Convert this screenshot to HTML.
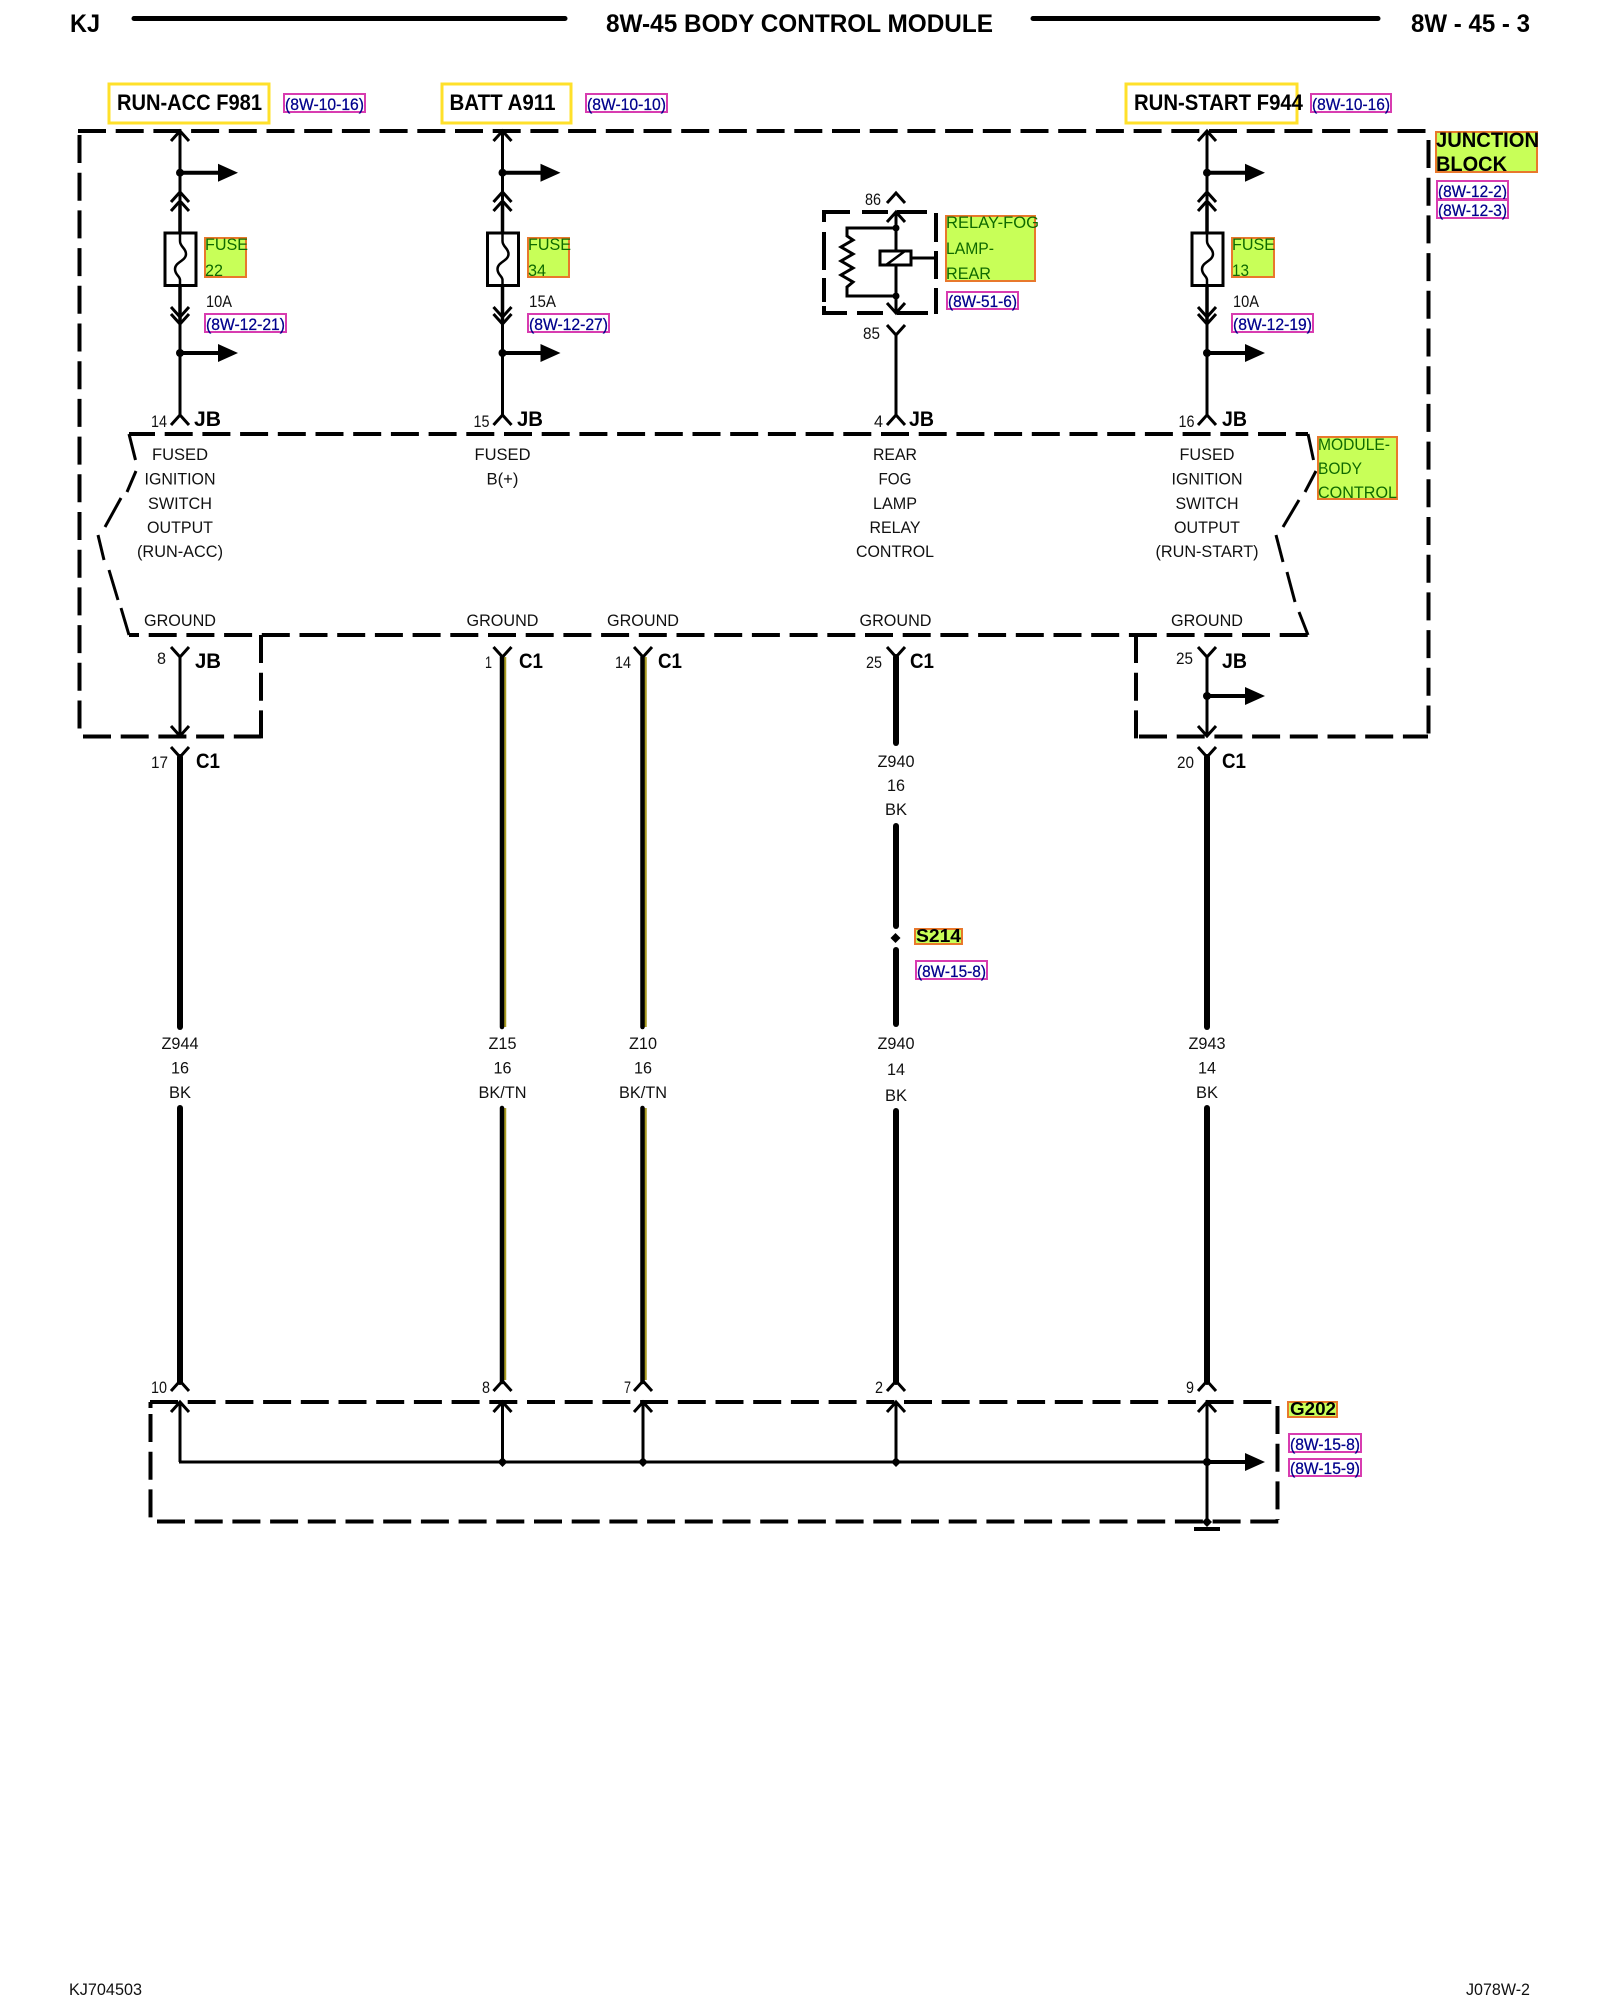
<!DOCTYPE html>
<html><head><meta charset="utf-8"><title>8W-45 Body Control Module</title>
<style>
html,body{margin:0;padding:0;background:#fff;width:1600px;height:2000px;overflow:hidden}
svg{display:block;filter:blur(0.35px)}
text{font-family:"Liberation Sans",sans-serif;fill:#111;font-size:16.5px}
.b{font-weight:bold;fill:#000}
.h{font-weight:bold;font-size:25px;fill:#000}
.t{font-weight:bold;font-size:22px;fill:#000}
.j{font-weight:bold;font-size:21px;fill:#000}
.c{text-anchor:middle}
.g{fill:#0f6a00;font-size:17px}
.r{fill:#00008c;font-size:16.5px;stroke:#00008c;stroke-width:.25}
.lb{fill:#c8ff58;stroke:#e8782c;stroke-width:2}
.rb{fill:#fff;stroke:#d83cb0;stroke-width:2}
.y{fill:#fff;stroke:#ffe02a;stroke-width:3}
.d{fill:none;stroke:#000;stroke-width:4;stroke-dasharray:28 9.7}
.s{fill:none;stroke:#000;stroke-width:3}
.m{fill:none;stroke:#000;stroke-width:3.5}
.w{fill:none;stroke:#000;stroke-width:6;stroke-linecap:round}
.o{fill:none;stroke:#a89a20;stroke-width:2.5}
.n{fill:none;stroke:#000;stroke-width:3}
.q{stroke:#000;stroke-width:4}
</style></head><body>
<svg xmlns="http://www.w3.org/2000/svg" width="1600" height="2000" viewBox="0 0 1600 2000">
<defs>
<polyline id="cu" points="-9,10 0,0 9,10" fill="none" stroke="#000" stroke-width="3"/>
<polyline id="cd" points="-9,-10 0,0 9,-10" fill="none" stroke="#000" stroke-width="3"/>
<g id="ar"><circle cx="0" cy="0" r="4" fill="#000"/><line x1="0" y1="0" x2="40" y2="0" stroke="#000" stroke-width="4"/><polygon points="38,-9 58,0 38,9" fill="#000"/></g>
<polygon id="dm" points="-5,0 0,-5 5,0 0,5" fill="#000"/>
<g id="fu">
<use href="#cu" x="0" y="131"/>
<line class="s" x1="0" y1="131" x2="0" y2="200"/>
<use href="#ar" x="0" y="172.7"/>
<use href="#cu" x="0" y="192"/><use href="#cu" x="0" y="201"/>
<line class="m" x1="0" y1="201" x2="0" y2="240"/>
<rect x="-15" y="233" width="31" height="52.5" fill="#fff" stroke="#000" stroke-width="3"/>
<path d="M0 233V241C0 247 6 248 6 254C6 261 -5 262 -5 269C-5 275 0 276 0 280V286" fill="none" stroke="#000" stroke-width="2.5"/>
<line class="m" x1="0" y1="286" x2="0" y2="322"/>
<use href="#cd" x="0" y="317"/><use href="#cd" x="0" y="324"/>
<line class="s" x1="0" y1="322" x2="0" y2="415"/>
<use href="#ar" x="0" y="353"/>
<use href="#cu" x="0" y="415"/>
</g>
</defs>

<!-- header -->
<text class="h" x="70" y="32" textLength="30" lengthAdjust="spacingAndGlyphs">KJ</text>
<line x1="134" y1="18.5" x2="565" y2="18.5" stroke="#000" stroke-width="5" stroke-linecap="round"/>
<text class="h" x="606" y="32" textLength="387" lengthAdjust="spacingAndGlyphs">8W-45 BODY CONTROL MODULE</text>
<line x1="1033" y1="18.5" x2="1378" y2="18.5" stroke="#000" stroke-width="5" stroke-linecap="round"/>
<text class="h" x="1411" y="32" textLength="119" lengthAdjust="spacingAndGlyphs">8W - 45 - 3</text>

<!-- outer junction block -->
<line class="d" x1="78" y1="131" x2="1426" y2="131"/>
<line class="d" x1="79.5" y1="135" x2="79.5" y2="733"/>
<line class="d" x1="83" y1="736.5" x2="261" y2="736.5"/>
<line class="d" x1="261" y1="635" x2="261" y2="739"/>
<line class="d" x1="1428.5" y1="140" x2="1428.5" y2="738"/>
<line class="d" x1="1139" y1="736.5" x2="1428" y2="736.5"/>
<line class="d" x1="1136" y1="635" x2="1136" y2="739"/>

<!-- module -->
<line class="d" x1="129" y1="434" x2="1308" y2="434" style="stroke-dashoffset:2"/>
<line class="d" x1="129" y1="635" x2="1308" y2="635" style="stroke-dashoffset:18"/>
<polyline class="n" points="129,434 135.5,460"/>
<polyline class="n" points="136,471 127,492"/><polyline class="n" points="121,498 105,527"/>
<polyline class="n" points="98,535 104,560"/><polyline class="n" points="109,570 118,600"/><polyline class="n" points="121,608 129,635"/>
<polyline class="n" points="1308,434 1313.5,460"/>
<polyline class="n" points="1316,471 1305,492"/><polyline class="n" points="1299,500 1283,527"/>
<polyline class="n" points="1276,535 1283,562"/><polyline class="n" points="1287,572 1295,602"/><polyline class="n" points="1299,612 1308,635"/>

<!-- top sources -->
<rect class="y" x="109" y="84" width="160" height="39"/>
<text class="t" x="117" y="110" textLength="145" lengthAdjust="spacingAndGlyphs">RUN-ACC F981</text>
<rect class="rb" x="284" y="94" width="81" height="18"/>
<text class="r" x="285" y="110" textLength="79" lengthAdjust="spacingAndGlyphs">(8W-10-16)</text>
<rect class="y" x="442" y="84" width="129" height="39"/>
<text class="t" x="449.5" y="110" textLength="106" lengthAdjust="spacingAndGlyphs">BATT A911</text>
<rect class="rb" x="586" y="94" width="81" height="18"/>
<text class="r" x="587" y="110" textLength="79" lengthAdjust="spacingAndGlyphs">(8W-10-10)</text>
<rect class="y" x="1126" y="84" width="171" height="39"/>
<text class="t" x="1134" y="110" textLength="169" lengthAdjust="spacingAndGlyphs">RUN-START F944</text>
<rect class="rb" x="1311" y="94" width="80" height="18"/>
<text class="r" x="1312" y="110" textLength="78" lengthAdjust="spacingAndGlyphs">(8W-10-16)</text>

<!-- junction block label -->
<rect class="lb" x="1436" y="132" width="101" height="40"/>
<text class="j" x="1436" y="147" textLength="103" lengthAdjust="spacingAndGlyphs">JUNCTION</text>
<text class="j" x="1436" y="171" textLength="71" lengthAdjust="spacingAndGlyphs">BLOCK</text>
<rect class="rb" x="1437" y="181" width="71" height="18"/>
<text class="r" x="1438" y="197" textLength="69" lengthAdjust="spacingAndGlyphs">(8W-12-2)</text>
<rect class="rb" x="1437" y="200" width="71" height="18"/>
<text class="r" x="1438" y="216" textLength="69" lengthAdjust="spacingAndGlyphs">(8W-12-3)</text>

<!-- fuse columns -->
<use href="#fu" x="180" y="0"/>
<use href="#fu" x="502.5" y="0"/>
<use href="#fu" x="1207" y="0"/>

<rect class="lb" x="205" y="238" width="41" height="39"/>
<text class="g" x="205" y="250" textLength="43" lengthAdjust="spacingAndGlyphs">FUSE</text>
<text class="g" x="205" y="276" textLength="18" lengthAdjust="spacingAndGlyphs">22</text>
<text x="206" y="307" textLength="26" lengthAdjust="spacingAndGlyphs">10A</text>
<rect class="rb" x="205" y="314" width="81" height="18"/>
<text class="r" x="206" y="330" textLength="79" lengthAdjust="spacingAndGlyphs">(8W-12-21)</text>

<rect class="lb" x="528" y="238" width="41" height="39"/>
<text class="g" x="528" y="250" textLength="43" lengthAdjust="spacingAndGlyphs">FUSE</text>
<text class="g" x="528" y="276" textLength="18" lengthAdjust="spacingAndGlyphs">34</text>
<text x="529" y="307" textLength="27" lengthAdjust="spacingAndGlyphs">15A</text>
<rect class="rb" x="528" y="314" width="81" height="18"/>
<text class="r" x="529" y="330" textLength="79" lengthAdjust="spacingAndGlyphs">(8W-12-27)</text>

<rect class="lb" x="1232" y="238" width="42" height="39"/>
<text class="g" x="1232" y="250" textLength="43" lengthAdjust="spacingAndGlyphs">FUSE</text>
<text class="g" x="1232" y="276" textLength="17" lengthAdjust="spacingAndGlyphs">13</text>
<text x="1233" y="307" textLength="26" lengthAdjust="spacingAndGlyphs">10A</text>
<rect class="rb" x="1232" y="314" width="81" height="18"/>
<text class="r" x="1233" y="330" textLength="79" lengthAdjust="spacingAndGlyphs">(8W-12-19)</text>

<!-- relay -->
<text x="865" y="205" textLength="16" lengthAdjust="spacingAndGlyphs">86</text>
<use href="#cu" x="896" y="193"/>
<polyline points="824,222 824,212 850,212" fill="none" stroke="#000" stroke-width="4"/>
<line class="q" x1="862" y1="212" x2="888" y2="212"/>
<line class="q" x1="897" y1="212" x2="927" y2="212"/>
<line class="q" x1="824" y1="232" x2="824" y2="270"/>
<line class="q" x1="824" y1="278" x2="824" y2="302"/>
<polyline points="824,306 824,313 847,313" fill="none" stroke="#000" stroke-width="4"/>
<line class="q" x1="857" y1="313" x2="883" y2="313"/>
<line class="q" x1="897" y1="313" x2="928" y2="313"/>
<line class="q" x1="936" y1="213" x2="936" y2="242"/>
<line class="q" x1="936" y1="251" x2="936" y2="279"/>
<line class="q" x1="936" y1="288" x2="936" y2="314"/>
<line class="n" x1="896" y1="212" x2="896" y2="313"/>
<use href="#cu" x="896" y="212"/>
<use href="#cd" x="896" y="313"/>
<circle cx="896" cy="228" r="3.5"/><circle cx="896" cy="296" r="3.5"/>
<polyline class="n" points="896,228 847,228 847,236 853,240 841,247 853,254 841,261 853,268 841,275 853,282 847,287 847,296 896,296"/>
<rect x="880" y="251" width="31" height="14" fill="#fff" stroke="#000" stroke-width="3"/>
<line x1="886" y1="265" x2="905" y2="251" stroke="#000" stroke-width="2.5"/>
<line class="s" x1="911" y1="258" x2="936" y2="258"/>
<rect class="lb" x="946" y="216" width="89" height="65"/>
<text class="g" x="946" y="228" textLength="93" lengthAdjust="spacingAndGlyphs">RELAY-FOG</text>
<text class="g" x="946" y="254" textLength="48" lengthAdjust="spacingAndGlyphs">LAMP-</text>
<text class="g" x="946" y="279" textLength="45" lengthAdjust="spacingAndGlyphs">REAR</text>
<rect class="rb" x="947" y="292" width="71" height="17"/>
<text class="r" x="948" y="307" textLength="69" lengthAdjust="spacingAndGlyphs">(8W-51-6)</text>
<text x="863" y="339" textLength="17" lengthAdjust="spacingAndGlyphs">85</text>
<use href="#cd" x="896" y="335"/>
<line class="s" x1="896" y1="335" x2="896" y2="415"/>
<use href="#cu" x="896" y="415"/>

<!-- upper connectors -->
<text x="151" y="427" textLength="16" lengthAdjust="spacingAndGlyphs">14</text>
<text class="j" x="194" y="426" textLength="27" lengthAdjust="spacingAndGlyphs">JB</text>
<text x="473.5" y="427" textLength="16" lengthAdjust="spacingAndGlyphs">15</text>
<text class="j" x="517" y="426" textLength="26" lengthAdjust="spacingAndGlyphs">JB</text>
<text x="874" y="427" textLength="9" lengthAdjust="spacingAndGlyphs">4</text>
<text class="j" x="909" y="426" textLength="25" lengthAdjust="spacingAndGlyphs">JB</text>
<text x="1178.5" y="427" textLength="16" lengthAdjust="spacingAndGlyphs">16</text>
<text class="j" x="1222" y="426" textLength="25" lengthAdjust="spacingAndGlyphs">JB</text>

<!-- module text -->
<text class="c" x="180" y="460" textLength="56" lengthAdjust="spacingAndGlyphs">FUSED</text>
<text class="c" x="180" y="484.5" textLength="71" lengthAdjust="spacingAndGlyphs">IGNITION</text>
<text class="c" x="180" y="509" textLength="64" lengthAdjust="spacingAndGlyphs">SWITCH</text>
<text class="c" x="180" y="533" textLength="66" lengthAdjust="spacingAndGlyphs">OUTPUT</text>
<text class="c" x="180" y="557" textLength="86" lengthAdjust="spacingAndGlyphs">(RUN-ACC)</text>
<text class="c" x="502.5" y="460" textLength="56" lengthAdjust="spacingAndGlyphs">FUSED</text>
<text class="c" x="502.5" y="484.5" textLength="32" lengthAdjust="spacingAndGlyphs">B(+)</text>
<text class="c" x="895" y="460" textLength="44" lengthAdjust="spacingAndGlyphs">REAR</text>
<text class="c" x="895" y="484.5" textLength="33" lengthAdjust="spacingAndGlyphs">FOG</text>
<text class="c" x="895" y="509" textLength="44" lengthAdjust="spacingAndGlyphs">LAMP</text>
<text class="c" x="895" y="533" textLength="51" lengthAdjust="spacingAndGlyphs">RELAY</text>
<text class="c" x="895" y="557" textLength="78" lengthAdjust="spacingAndGlyphs">CONTROL</text>
<text class="c" x="1207" y="460" textLength="55" lengthAdjust="spacingAndGlyphs">FUSED</text>
<text class="c" x="1207" y="484.5" textLength="71" lengthAdjust="spacingAndGlyphs">IGNITION</text>
<text class="c" x="1207" y="509" textLength="63" lengthAdjust="spacingAndGlyphs">SWITCH</text>
<text class="c" x="1207" y="533" textLength="66" lengthAdjust="spacingAndGlyphs">OUTPUT</text>
<text class="c" x="1207" y="557" textLength="103" lengthAdjust="spacingAndGlyphs">(RUN-START)</text>
<text class="c" x="180" y="626" textLength="72" lengthAdjust="spacingAndGlyphs">GROUND</text>
<text class="c" x="502.5" y="626" textLength="72" lengthAdjust="spacingAndGlyphs">GROUND</text>
<text class="c" x="643" y="626" textLength="72" lengthAdjust="spacingAndGlyphs">GROUND</text>
<text class="c" x="895.5" y="626" textLength="72" lengthAdjust="spacingAndGlyphs">GROUND</text>
<text class="c" x="1207" y="626" textLength="72" lengthAdjust="spacingAndGlyphs">GROUND</text>
<rect class="lb" x="1318" y="437" width="79" height="62"/>
<text class="g" x="1318" y="450" textLength="72" lengthAdjust="spacingAndGlyphs">MODULE-</text>
<text class="g" x="1318" y="474" textLength="44" lengthAdjust="spacingAndGlyphs">BODY</text>
<text class="g" x="1318" y="498" textLength="79" lengthAdjust="spacingAndGlyphs">CONTROL</text>

<!-- lower connectors -->
<use href="#cd" x="180" y="657"/><line class="s" x1="180" y1="657" x2="180" y2="736"/><use href="#cd" x="180" y="736"/>
<text x="157" y="664" textLength="9" lengthAdjust="spacingAndGlyphs">8</text>
<text class="j" x="195" y="668" textLength="26" lengthAdjust="spacingAndGlyphs">JB</text>
<use href="#cd" x="180" y="757"/>
<text x="151" y="768" textLength="17" lengthAdjust="spacingAndGlyphs">17</text>
<text class="j" x="196" y="768" textLength="24" lengthAdjust="spacingAndGlyphs">C1</text>

<use href="#cd" x="502.5" y="657"/>
<text x="485" y="668" textLength="7" lengthAdjust="spacingAndGlyphs">1</text>
<text class="j" x="519" y="668" textLength="24" lengthAdjust="spacingAndGlyphs">C1</text>
<use href="#cd" x="643" y="657"/>
<text x="615" y="668" textLength="16" lengthAdjust="spacingAndGlyphs">14</text>
<text class="j" x="658" y="668" textLength="24" lengthAdjust="spacingAndGlyphs">C1</text>
<use href="#cd" x="896" y="657"/>
<text x="866" y="668" textLength="16" lengthAdjust="spacingAndGlyphs">25</text>
<text class="j" x="910" y="668" textLength="24" lengthAdjust="spacingAndGlyphs">C1</text>

<use href="#cd" x="1207" y="657"/><line class="s" x1="1207" y1="657" x2="1207" y2="736"/><use href="#cd" x="1207" y="736"/>
<use href="#ar" x="1207" y="696"/>
<text x="1176" y="664" textLength="17" lengthAdjust="spacingAndGlyphs">25</text>
<text class="j" x="1222" y="668" textLength="25" lengthAdjust="spacingAndGlyphs">JB</text>
<use href="#cd" x="1207" y="757"/>
<text x="1177" y="768" textLength="17" lengthAdjust="spacingAndGlyphs">20</text>
<text class="j" x="1222" y="768" textLength="24" lengthAdjust="spacingAndGlyphs">C1</text>

<!-- wires -->
<line class="w" x1="180" y1="757" x2="180" y2="1027"/><line class="w" x1="180" y1="1108" x2="180" y2="1382"/>
<line class="o" x1="505" y1="657" x2="505" y2="1027"/><line class="o" x1="505" y1="1108" x2="505" y2="1380"/>
<line class="w" x1="502" y1="657" x2="502" y2="1027" style="stroke-width:4.5"/><line class="w" x1="502" y1="1108" x2="502" y2="1382" style="stroke-width:4.5"/>
<line class="o" x1="645.5" y1="657" x2="645.5" y2="1027"/><line class="o" x1="645.5" y1="1108" x2="645.5" y2="1380"/>
<line class="w" x1="642.5" y1="657" x2="642.5" y2="1027" style="stroke-width:4.5"/><line class="w" x1="642.5" y1="1108" x2="642.5" y2="1382" style="stroke-width:4.5"/>
<line class="w" x1="896" y1="657" x2="896" y2="743"/><line class="w" x1="896" y1="826" x2="896" y2="926"/>
<line class="w" x1="896" y1="950" x2="896" y2="1024"/><line class="w" x1="896" y1="1111" x2="896" y2="1382"/>
<use href="#dm" x="895.5" y="938"/>
<line class="w" x1="1207" y1="757" x2="1207" y2="1027"/><line class="w" x1="1207" y1="1108" x2="1207" y2="1382"/>

<!-- S214 -->
<rect class="lb" x="915" y="929" width="47" height="15"/>
<text class="b" x="916" y="942" style="font-size:18px" textLength="45" lengthAdjust="spacingAndGlyphs">S214</text>
<rect class="rb" x="916" y="961" width="71" height="18"/>
<text class="r" x="917" y="977" textLength="69" lengthAdjust="spacingAndGlyphs">(8W-15-8)</text>

<!-- wire labels -->
<text class="c" x="896" y="767" textLength="37" lengthAdjust="spacingAndGlyphs">Z940</text>
<text class="c" x="896" y="791" textLength="18" lengthAdjust="spacingAndGlyphs">16</text>
<text class="c" x="896" y="815" textLength="22" lengthAdjust="spacingAndGlyphs">BK</text>
<text class="c" x="180" y="1049" textLength="37" lengthAdjust="spacingAndGlyphs">Z944</text>
<text class="c" x="180" y="1073.5" textLength="18" lengthAdjust="spacingAndGlyphs">16</text>
<text class="c" x="180" y="1098" textLength="22" lengthAdjust="spacingAndGlyphs">BK</text>
<text class="c" x="502.5" y="1049" textLength="28" lengthAdjust="spacingAndGlyphs">Z15</text>
<text class="c" x="502.5" y="1073.5" textLength="18" lengthAdjust="spacingAndGlyphs">16</text>
<text class="c" x="502.5" y="1098" textLength="48" lengthAdjust="spacingAndGlyphs">BK/TN</text>
<text class="c" x="643" y="1049" textLength="28" lengthAdjust="spacingAndGlyphs">Z10</text>
<text class="c" x="643" y="1073.5" textLength="18" lengthAdjust="spacingAndGlyphs">16</text>
<text class="c" x="643" y="1098" textLength="48" lengthAdjust="spacingAndGlyphs">BK/TN</text>
<text class="c" x="896" y="1049" textLength="37" lengthAdjust="spacingAndGlyphs">Z940</text>
<text class="c" x="896" y="1075" textLength="18" lengthAdjust="spacingAndGlyphs">14</text>
<text class="c" x="896" y="1101" textLength="22" lengthAdjust="spacingAndGlyphs">BK</text>
<text class="c" x="1207" y="1049" textLength="37" lengthAdjust="spacingAndGlyphs">Z943</text>
<text class="c" x="1207" y="1073.5" textLength="18" lengthAdjust="spacingAndGlyphs">14</text>
<text class="c" x="1207" y="1098" textLength="22" lengthAdjust="spacingAndGlyphs">BK</text>

<!-- bottom connectors -->
<use href="#cu" x="180" y="1381"/><use href="#cu" x="502.5" y="1381"/><use href="#cu" x="643" y="1381"/><use href="#cu" x="896" y="1381"/><use href="#cu" x="1207" y="1381"/>
<text x="151" y="1393" textLength="16" lengthAdjust="spacingAndGlyphs">10</text>
<text x="482" y="1393" textLength="8" lengthAdjust="spacingAndGlyphs">8</text>
<text x="624" y="1393" textLength="7" lengthAdjust="spacingAndGlyphs">7</text>
<text x="875" y="1393" textLength="8" lengthAdjust="spacingAndGlyphs">2</text>
<text x="1186" y="1393" textLength="8" lengthAdjust="spacingAndGlyphs">9</text>

<!-- ground block -->
<line class="d" x1="150" y1="1402" x2="1274" y2="1402"/>
<line class="q" x1="150.5" y1="1402" x2="150.5" y2="1408"/>
<line class="d" x1="150.5" y1="1414" x2="150.5" y2="1519"/>
<line class="d" x1="157" y1="1521.5" x2="1279" y2="1521.5"/>
<line class="d" x1="1277.5" y1="1406" x2="1277.5" y2="1520"/>
<use href="#cu" x="180" y="1402"/><use href="#cu" x="502.5" y="1402"/><use href="#cu" x="643" y="1402"/><use href="#cu" x="896" y="1402"/><use href="#cu" x="1207" y="1402"/>
<line class="s" x1="180" y1="1402" x2="180" y2="1462"/>
<line class="s" x1="502.5" y1="1402" x2="502.5" y2="1462"/>
<line class="s" x1="643" y1="1402" x2="643" y2="1462"/>
<line class="s" x1="896" y1="1402" x2="896" y2="1462"/>
<line class="s" x1="1207" y1="1402" x2="1207" y2="1522"/>
<line class="s" x1="179" y1="1462" x2="1207" y2="1462"/>
<use href="#dm" x="502.5" y="1462"/><use href="#dm" x="643" y="1462"/><use href="#dm" x="896" y="1462"/>
<use href="#ar" x="1207" y="1462"/>
<use href="#dm" x="1207" y="1522"/>
<line x1="1194" y1="1529" x2="1220" y2="1529" stroke="#000" stroke-width="4"/>
<rect class="lb" x="1288" y="1402" width="49" height="15"/>
<text class="b" x="1290" y="1415" style="font-size:18px" textLength="46" lengthAdjust="spacingAndGlyphs">G202</text>
<rect class="rb" x="1289" y="1434" width="72" height="18"/>
<text class="r" x="1290" y="1450" textLength="70" lengthAdjust="spacingAndGlyphs">(8W-15-8)</text>
<rect class="rb" x="1289" y="1459" width="72" height="17"/>
<text class="r" x="1290" y="1474" textLength="70" lengthAdjust="spacingAndGlyphs">(8W-15-9)</text>

<!-- footer -->
<text x="69" y="1995" textLength="73" lengthAdjust="spacingAndGlyphs">KJ704503</text>
<text x="1466" y="1995" textLength="64" lengthAdjust="spacingAndGlyphs">J078W-2</text>
</svg>
</body></html>
